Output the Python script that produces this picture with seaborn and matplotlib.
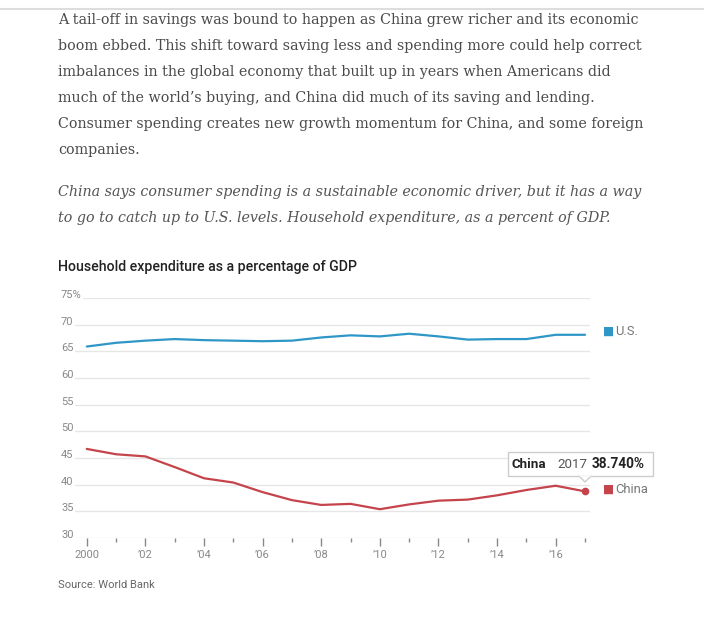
import seaborn as sns
import matplotlib.pyplot as plt
import pandas as pd
from matplotlib.patches import Rectangle, Polygon
from matplotlib.lines import Line2D

# values (household expenditure, % of GDP)
years = list(range(2000, 2018))
us_values = [65.9, 66.6, 67.0, 67.3, 67.1, 67.0, 66.9, 67.0, 67.6, 68.0,
             67.8, 68.3, 67.8, 67.2, 67.3, 67.3, 68.1, 68.1]
china_values = [46.7, 45.7, 45.3, 43.3, 41.2, 40.4, 38.6, 37.1, 36.2, 36.4,
                35.4, 36.3, 37.0, 37.2, 38.0, 39.0, 39.8, 38.74]
y_ticks = [30, 35, 40, 45, 50, 55, 60, 65, 70, 75]
y_tick_labels = ['30', '35', '40', '45', '50', '55', '60', '65', '70', '75%']
x_major = list(range(2000, 2018, 2))
x_major_labels = ['2000', '\u201902', '\u201904', '\u201906', '\u201908',
                  '\u201910', '\u201912', '\u201914', '\u201916']

body_lines = [
    "A tail-off in savings was bound to happen as China grew richer and its economic",
    "boom ebbed. This shift toward saving less and spending more could help correct",
    "imbalances in the global economy that built up in years when Americans did",
    "much of the world\u2019s buying, and China did much of its saving and lending.",
    "Consumer spending creates new growth momentum for China, and some foreign",
    "companies.",
]
italic_lines = [
    "China says consumer spending is a sustainable economic driver, but it has a way",
    "to go to catch up to U.S. levels. Household expenditure, as a percent of GDP.",
]

us_color = '#2f97c7'
china_color = '#c5444b'

df = pd.DataFrame({
    'year': years * 2,
    'value': us_values + china_values,
    'country': ['U.S.'] * len(years) + ['China'] * len(years),
})

sns.set_style('white')
plt.rcParams['font.family'] = ['Roboto', 'DejaVu Sans']

W, H = 704, 636
fig = plt.figure(figsize=(W / 100, H / 100), dpi=100)


def fx(x):
    return x / W


def fy(y):
    return 1 - y / H


# page header rule
fig.add_artist(Line2D([0, 1], [fy(9), fy(9)], color='#dddddd', lw=1.5))

# article text
for i, line in enumerate(body_lines):
    fig.text(fx(58), fy(20 + 26 * i), line, family='DejaVu Serif', fontsize=10.3,
             color='#4a4a4a', va='center', ha='left')
for i, line in enumerate(italic_lines):
    fig.text(fx(58), fy(192 + 26 * i), line, family='DejaVu Serif', style='italic',
             fontsize=10.25, color='#555555', va='center', ha='left')

fig.text(fx(58), fy(267), 'Household expenditure as a percentage of GDP',
         fontsize=10.2, fontweight='medium', color='#222222', va='center', ha='left')

ax = fig.add_axes([fx(73), fy(538), fx(590) - fx(73), (538 - 298) / H])
sns.lineplot(data=df, x='year', y='value', hue='country',
             palette={'U.S.': us_color, 'China': china_color},
             hue_order=['U.S.', 'China'], linewidth=1.6, legend=False, ax=ax)

# highlighted point
ax.plot(years[-1], china_values[-1], 'o', color=china_color, ms=4.5, zorder=5)

ax.set_xlim(1999.53, 2017.17)
ax.set_ylim(30, 75)
ax.set_xlabel('')
ax.set_ylabel('')
for s in ax.spines.values():
    s.set_visible(False)

ax.set_yticks(y_ticks)
ax.set_yticklabels(y_tick_labels)
ax.yaxis.grid(True, color='#e6e6e6', lw=1)
ax.set_axisbelow(True)
ax.tick_params(axis='y', length=0, pad=8.6, labelsize=8, labelcolor='#888888')
for lab in ax.get_yticklabels():
    lab.set_ha('left')
    lab.set_va('baseline')
    lab.set_bbox(dict(facecolor='white', edgecolor='none', pad=1))

ax.set_xticks(x_major)
ax.set_xticklabels(x_major_labels)
ax.set_xticks(list(range(2001, 2018, 2)), minor=True)
ax.tick_params(axis='x', which='major', direction='out', length=6, width=1,
               color='#888888', labelsize=8, labelcolor='#888888', pad=3)
ax.tick_params(axis='x', which='minor', direction='out', length=3, width=1,
               color='#888888')
ax.tick_params(axis='x', which='both', bottom=True)

# series labels at the line ends
for name, vals, col, dy in [('U.S.', us_values, us_color, 2.5),
                            ('China', china_values, china_color, 1.5)]:
    ax.annotate('\u25a0', xy=(years[-1], vals[-1]), xytext=(13, dy),
                textcoords='offset points', color=col, fontsize=8.5,
                family='DejaVu Sans', va='center', ha='left', annotation_clip=False)
    ax.annotate(name, xy=(years[-1], vals[-1]), xytext=(22, dy),
                textcoords='offset points', color='#777777', fontsize=9.4,
                va='center', ha='left', annotation_clip=False)

# tooltip
fig.add_artist(Rectangle((fx(508), fy(476)), fx(653) - fx(508), (476 - 452) / H,
                         facecolor='white', edgecolor='#cccccc', lw=1))
fig.add_artist(Polygon([(fx(579), fy(476)), (fx(591), fy(476)), (fx(585), fy(482))],
                       closed=True, facecolor='white', edgecolor='#cccccc', lw=1))
fig.add_artist(Line2D([fx(580), fx(590)], [fy(476), fy(476)], color='white', lw=1.2))
fig.text(fx(512), fy(464), 'China', fontsize=9.6, fontweight='bold', color='#222222',
         va='center')
fig.text(fx(557), fy(464), '2017', fontsize=9.6, color='#555555', va='center')
fig.text(fx(592), fy(464), '38.740%', fontsize=9.8, fontweight='bold', color='#222222',
         va='center')

fig.text(fx(58), fy(585), 'Source: World Bank', fontsize=8, color='#666666',
         va='center')

fig.savefig('out.png', dpi=100)
